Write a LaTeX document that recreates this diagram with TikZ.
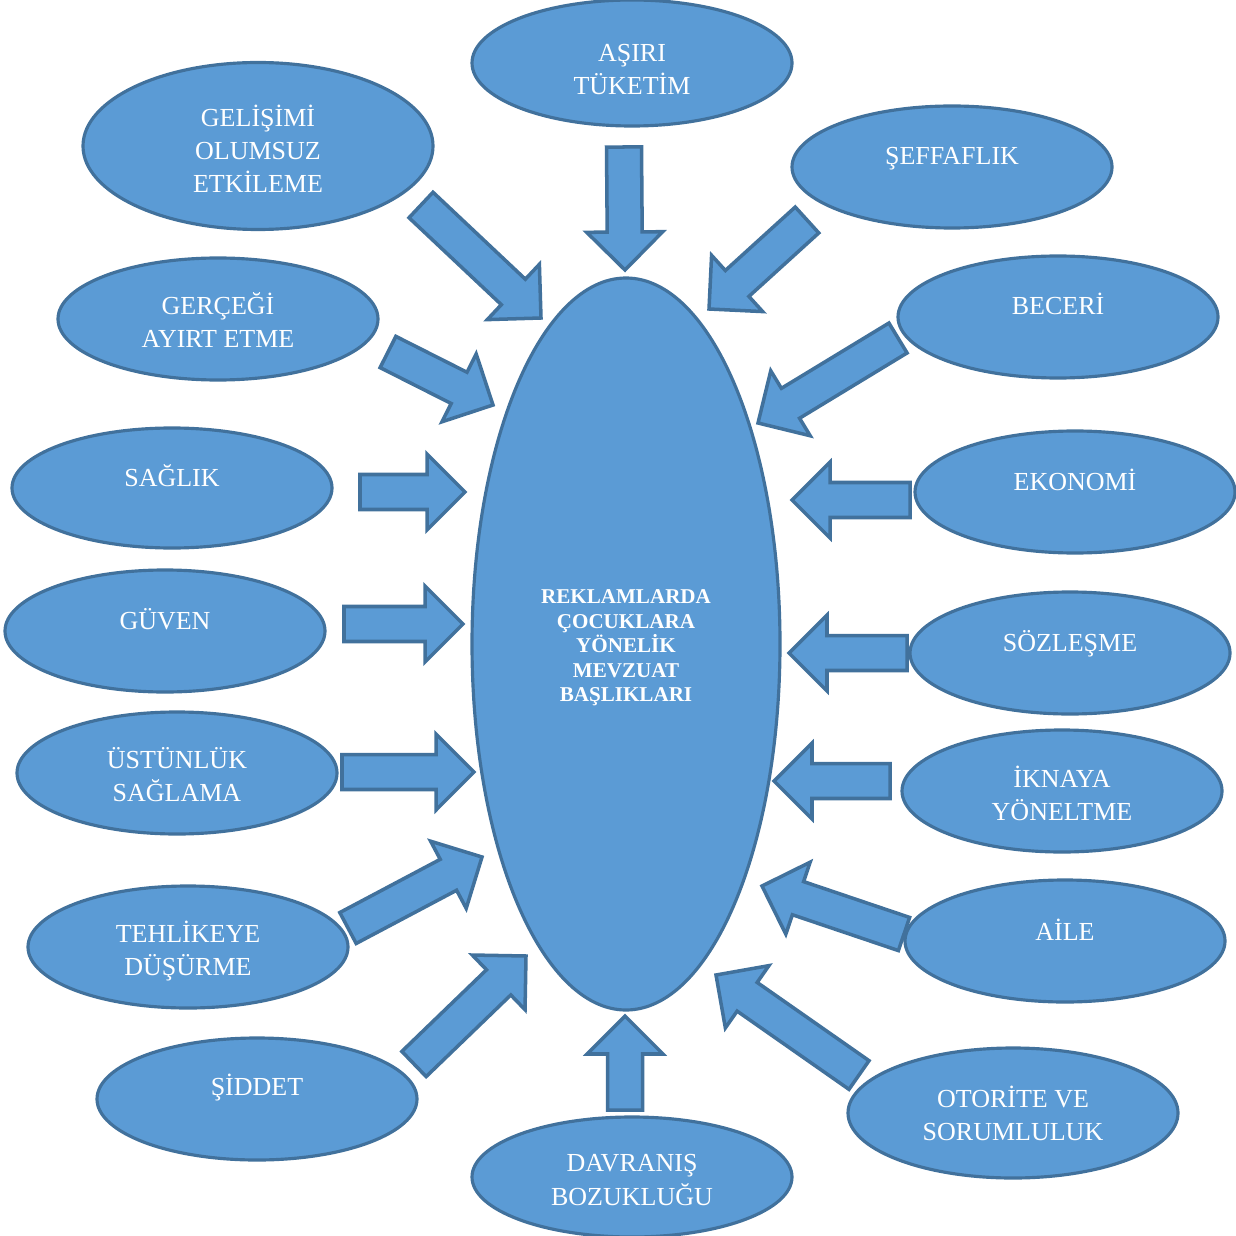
\documentclass[tikz,border=0pt]{standalone}
\usepackage{fontspec}
\setmainfont{Liberation Serif}
\usetikzlibrary{calc,shapes.geometric}
\definecolor{bubblefill}{HTML}{5B9BD5}
\definecolor{bubbleline}{HTML}{41719C}
\newcommand{\shafthw}{0.35cm}
\newcommand{\headhw}{0.76cm}
\newcommand{\headlen}{0.76cm}
\begin{document}
\begin{tikzpicture}
        [x=0.02cm,y=-0.02cm,
        bubble/.style={shape=ellipse,draw=bubbleline,fill=bubblefill,line width=1.8pt,inner sep=0pt},%
        bubbletext/.style={text=white,align=center,font=\fontsize{14.8}{18.8}\selectfont},%
        centertext/.style={text=white,align=center,font=\fontsize{12}{14}\selectfont\bfseries},%
        arrowdecorate/.style={draw=bubbleline,fill=bubblefill,line width=2pt,line join=miter}]
        \useasboundingbox (0,0) rectangle (1236,1236);
        %% centre
        \node (centre) at (626,644) [bubble,minimum width=308*0.02cm,minimum height=732*0.02cm] {};
        \node (centre-t) at (626,648) [centertext] {REKLAMLARDA\\ÇOCUKLARA\\YÖNELİK\\MEVZUAT\\BAŞLIKLARI};
        %% outer ellipses
        \foreach \nodename/\x/\y/\w/\h/\tx/\ty/\txt in {
          asiri/632/63/320/126/632/70/AŞIRI\\TÜKETİM,
          gelisimi/258/146/350/167/258/149/GELİŞİMİ\\OLUMSUZ\\ETKİLEME,
          seffaf/952/167/320/122/952/159/ŞEFFAFLIK,
          gercegi/218/319/320/122/218/320/GERÇEĞİ\\AYIRT ETME,
          beceri/1058/317/320/122/1058/304/BECERİ,
          saglik/172/488/320/120/172/476/SAĞLIK,
          ekonomi/1075/492/320/122/1075/480/EKONOMİ,
          guven/165/631/320/122/165/619/GÜVEN,
          sozlesme/1070/653/320/122/1070/644/SÖZLEŞME,
          ustunluk/177/773/320/122/177/775/ÜSTÜNLÜK\\SAĞLAMA,
          iknaya/1062/791/320/122/1062/793/İKNAYA\\YÖNELTME,
          tehlike/188/947/320/122/188/951/TEHLİKEYE\\DÜŞÜRME,
          aile/1065/941/320/122/1065/930/AİLE,
          siddet/257/1099/320/122/257/1088/ŞİDDET,
          otorite/1013/1113/330/130/1013/1113/OTORİTE VE\\SORUMLULUK,
          davranis/632/1177/320/120/632/1180/DAVRANIŞ\\BOZUKLUĞU}
        {
          \node (\nodename) at (\x,\y) [bubble,minimum width=\w*0.02cm,minimum height=\h*0.02cm] {};
          \node (\nodename-t) at (\tx,\ty) [bubbletext] {\txt};
        }
        %% block arrows (tail -> tip)
        \foreach \arrowname/\ax/\ay/\bx/\by in {
          asiri/624/147/625/270, gelisimi/421/205/541/318,
          seffaf/807/220/709/309, gercegi/388/352/493/405,
          beceri/898/338/758/423, saglik/360/492/465/492,
          ekonomi/910/500/792/500, guven/344/624/463/624,
          sozlesme/907/653/789/653, ustunluk/342/772/474/772,
          iknaya/890/781/774/781, tehlike/348/928/482/857,
          aile/904/934/762/886, siddet/414/1064/526/956,
          otorite/859/1075/716/975, davranis/625/1110/625/1016}
        {
          \coordinate (\arrowname-a) at (\ax,\ay);
          \coordinate (\arrowname-b) at (\bx,\by);
          \coordinate (\arrowname-h) at ($(\arrowname-b)!\headlen!(\arrowname-a)$);
          \draw[arrowdecorate] ($(\arrowname-a)!\shafthw!90:(\arrowname-b)$)
            -- ($(\arrowname-h)!\shafthw!90:(\arrowname-b)$)
            -- ($(\arrowname-h)!\headhw!90:(\arrowname-b)$)
            -- (\arrowname-b)
            -- ($(\arrowname-h)!\headhw!-90:(\arrowname-b)$)
            -- ($(\arrowname-h)!\shafthw!-90:(\arrowname-b)$)
            -- ($(\arrowname-a)!\shafthw!-90:(\arrowname-b)$) -- cycle;
        }
      \end{tikzpicture}
\end{document}
